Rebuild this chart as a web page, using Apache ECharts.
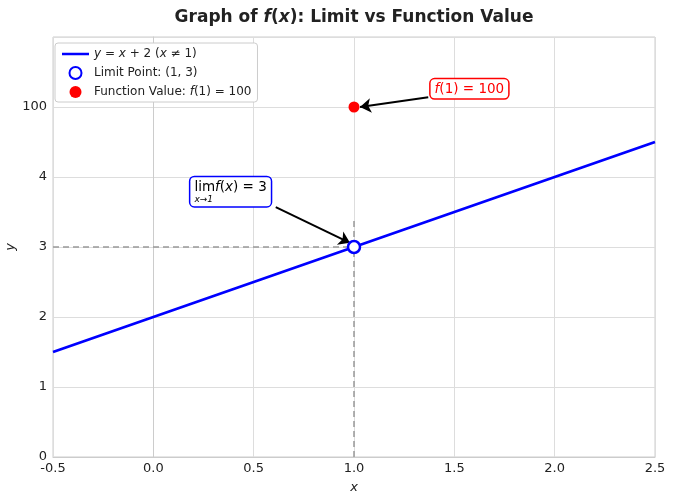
<!DOCTYPE html>
<html lang="en">
<head>
<meta charset="UTF-8">
<title>limit vs function value</title>
<script src="https://cdn.jsdelivr.net/npm/echarts@6/dist/echarts.min.js"></script>
<style>
  html, body { margin: 0; padding: 0; background: #fff; }
  #main { width: 678px; height: 499px; }
</style>
</head>
<body>
<div id="main"></div>
<script>
// chart data
var lineX = [-0.5, 0, 0.5, 1, 1.5, 2, 2.5];
var lineY = [1.5, 2, 2.5, 3, 3.5, 4, 4.5];
var limitPoint = [1, 3];
var funcPoint = [1, 100];
var xTicks = [-0.5, 0, 0.5, 1, 1.5, 2, 2.5];
var yTickLabels = ['0', '1', '2', '3', '4', '100'];

// the axis is broken: 100 sits one step above 4
function yPos(v) {
    var i = yTickLabels.indexOf(String(v));
    return v > 4 && i >= 0 ? i : v;
}

var font = 'DejaVu Sans';
var blue = '#0000ff', red = '#ff0000';

var lineData = lineX.map(function (x, i) { return [x, lineY[i]]; });

// annotation anchors (data coords)
var limText = [0.385, 3.79];
var limArrow = [[0.61, 3.57], [0.98, 3.06]];
var funcText = [1.575, 5.26];
var funcArrow = [[1.37, 5.14], [1.03, 5.0]];
var vGuideTop = 3.43;

var legendNames = {
    line: 'y = x + 2 (x ≠ 1)',
    limit: 'Limit Point: (1, 3)',
    func: 'Function Value: f(1) = 100'
};
// thin horizontal bar, with specks to keep the box height
var lineIcon = 'path://M0,0h0.05v0.05h-0.05z M0,4.8h28v2.6h-28z M0,12h0.05v0.05h-0.05z';

var chart = echarts.init(document.getElementById('main'));
chart.setOption({
    animation: false,
    title: {
        text: '{b|Graph of }{i|f}{r|(}{i|x}{r|)}{b|: Limit vs Function Value}',
        left: 349, textAlign: 'center', top: 4,
        textStyle: {
            rich: {
                b: { fontFamily: font, fontSize: 17, fontWeight: 'bold', color: '#222' },
                i: { fontFamily: font, fontSize: 17, fontStyle: 'italic', color: '#222' },
                r: { fontFamily: font, fontSize: 17, color: '#222' }
            }
        }
    },
    legend: {
        orient: 'vertical',
        left: 55, top: 43,
        padding: [5, 6, 4, 7],
        itemGap: 6,
        itemWidth: 27, itemHeight: 12,
        backgroundColor: '#fff',
        borderColor: '#cccccc', borderWidth: 1, borderRadius: 3,
        data: [
            { name: legendNames.line, icon: lineIcon },
            { name: legendNames.limit, icon: 'circle' },
            { name: legendNames.func, icon: 'circle' }
        ],
        formatter: function (name) {
            if (name === legendNames.line) return '{i|y} = {i|x} + 2 ({i|x} ≠ 1)';
            if (name === legendNames.func) return 'Function Value: {i|f}(1) = 100';
            return name;
        },
        textStyle: {
            fontFamily: font, fontSize: 12, color: '#222',
            rich: { i: { fontFamily: font, fontSize: 12, fontStyle: 'italic', color: '#222' } }
        }
    },
    grid: {
        left: 53, right: 23, top: 37, bottom: 42,
        outerBoundsMode: 'none',
        show: true, borderColor: '#cccccc', borderWidth: 1
    },
    xAxis: {
        type: 'value', min: -0.5, max: 2.5, interval: 0.5,
        name: 'x', nameLocation: 'middle', nameGap: 24, nameMoveOverlap: false,
        nameTextStyle: { fontFamily: font, fontSize: 13, fontStyle: 'italic', color: '#222' },
        axisLine: { lineStyle: { color: '#cccccc' } },
        axisTick: { show: false },
        axisLabel: {
            fontFamily: font, fontSize: 13, color: '#222', margin: 5,
            showMinLabel: true, showMaxLabel: true,
            formatter: function (v) { return xTicks.indexOf(v) >= 0 ? v.toFixed(1) : ''; }
        },
        splitLine: { lineStyle: { color: '#dddddd' } }
    },
    yAxis: {
        type: 'value', min: 0, max: 6, interval: 1,
        name: 'y', nameLocation: 'middle', nameGap: 36, nameRotate: 90, nameMoveOverlap: false,
        nameTextStyle: { fontFamily: font, fontSize: 13, fontStyle: 'italic', color: '#222' },
        axisLine: { show: true, lineStyle: { color: '#cccccc' } },
        axisTick: { show: false },
        axisLabel: {
            fontFamily: font, fontSize: 13, color: '#222', margin: 6,
            formatter: function (v) { return yTickLabels[v] || ''; }
        },
        splitLine: { lineStyle: { color: '#dddddd' } }
    },
    series: [
        {
            name: 'guides', type: 'line', data: [], silent: true, z: 1,
            markLine: {
                silent: true, symbol: ['none', 'none'], label: { show: false },
                lineStyle: { color: '#999999', type: [6, 4], width: 1.5 },
                data: [
                    [{ coord: [-0.5, limitPoint[1]] }, { coord: limitPoint }],
                    [{ coord: [limitPoint[0], 0] }, { coord: [limitPoint[0], vGuideTop] }]
                ]
            }
        },
        {
            name: legendNames.line, type: 'line', data: lineData,
            showSymbol: false, z: 3,
            lineStyle: { color: blue, width: 2.8 },
            itemStyle: { color: blue }
        },
        {
            name: legendNames.limit, type: 'scatter', data: [limitPoint], z: 6,
            symbol: 'circle', symbolSize: 12,
            itemStyle: { color: '#fff', borderColor: blue, borderWidth: 2.5, opacity: 1 }
        },
        {
            name: legendNames.func, type: 'scatter',
            data: [[funcPoint[0], yPos(funcPoint[1])]], z: 6,
            symbol: 'circle', symbolSize: 11,
            itemStyle: { color: red, opacity: 1 }
        },
        {
            name: 'arrows', type: 'line', data: [], silent: true, z: 7,
            markLine: {
                silent: true, symbol: ['none', 'arrow'], symbolSize: 11,
                label: { show: false },
                lineStyle: { color: '#000', type: 'solid', width: 2 },
                itemStyle: { color: '#000' },
                data: [
                    [{ coord: limArrow[0] }, { coord: limArrow[1] }],
                    [{ coord: funcArrow[0] }, { coord: funcArrow[1] }]
                ]
            }
        },
        {
            name: 'notes', type: 'scatter', silent: true, z: 8,
            symbolSize: 1, itemStyle: { color: 'rgba(0,0,0,0)', opacity: 1 },
            data: [
                {
                    value: limText,
                    label: {
                        show: true, position: 'inside', align: 'center', verticalAlign: 'middle',
                        formatter: '{n|lim}{i|f}{n|(}{i|x}{n|) = 3}\n{s|x→1}',
                        backgroundColor: '#fff', borderColor: blue, borderWidth: 1.5, borderRadius: 4,
                        padding: [3, 4, 2, 4],
                        rich: {
                            n: { fontFamily: font, fontSize: 13.5, color: '#000', lineHeight: 15 },
                            i: { fontFamily: font, fontSize: 13.5, fontStyle: 'italic', color: '#000', lineHeight: 15 },
                            s: { fontFamily: font, fontSize: 9, fontStyle: 'italic', color: '#000', lineHeight: 9, align: 'left' }
                        }
                    }
                },
                {
                    value: funcText,
                    label: {
                        show: true, position: 'inside', align: 'center', verticalAlign: 'middle',
                        formatter: '{i|f}{n|(1) = 100}',
                        backgroundColor: '#fff', borderColor: red, borderWidth: 1.5, borderRadius: 4,
                        padding: [3, 4, 2, 4],
                        rich: {
                            n: { fontFamily: font, fontSize: 13.5, color: red },
                            i: { fontFamily: font, fontSize: 13.5, fontStyle: 'italic', color: red }
                        }
                    }
                }
            ]
        }
    ]
});
</script>
</body>
</html>
